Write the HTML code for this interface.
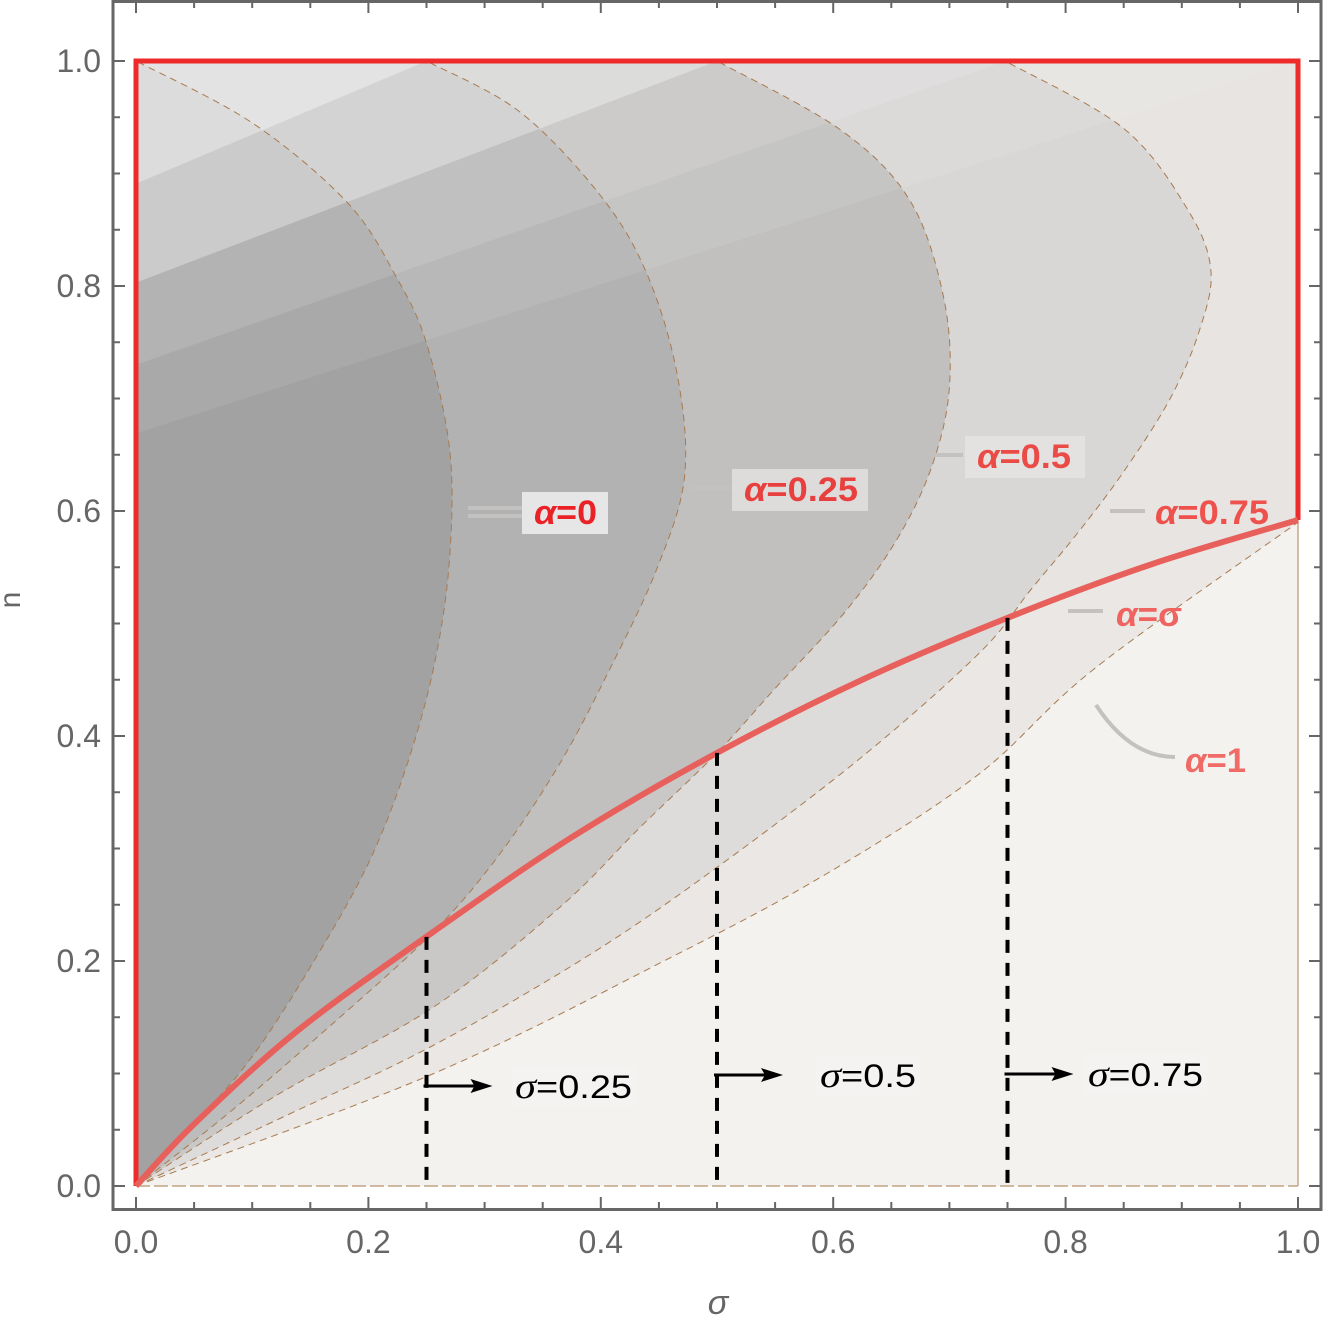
<!DOCTYPE html>
<html><head><meta charset="utf-8"><style>
html,body{margin:0;padding:0;background:#fff}
svg{display:block}
text{font-family:"Liberation Sans",sans-serif}
</style></head><body>
<svg id="chart" width="1323" height="1319" viewBox="0 0 1323 1319" xmlns="http://www.w3.org/2000/svg">
<g id="plot"></g>
</svg>
<script>
// ---- data (sigma, n) ----
const xTicks = [0, 0.2, 0.4, 0.6, 0.8, 1.0];
const yTicks = [0, 0.2, 0.4, 0.6, 0.8, 1.0];
const xTickLabels = ["0.0","0.2","0.4","0.6","0.8","1.0"];
const yTickLabels = ["0.0","0.2","0.4","0.6","0.8","1.0"];
const alphaLevels = [1, 0.75, 0.5, 0.25, 0];
const regionA1 = [[0,0],[0.254,0.099],[0.46,0.203],[0.595,0.278],[0.724,0.365],[0.825,0.46],[1,0.59]];
const regionA1Tail = [[1,0.59],[1,1]];
const regionA075 = [[0,0],[0.13,0.063],[0.254,0.124],[0.388,0.204],[0.497,0.281],[0.623,0.38],[0.726,0.474],[0.77,0.53],[0.81,0.58],[0.85,0.635],[0.89,0.7],[0.915,0.76],[0.925,0.814],[0.905,0.868],[0.85,0.94],[0.748,1]];
const regionA05 = [[0,0],[0.12,0.08],[0.256,0.159],[0.365,0.248],[0.434,0.319],[0.5,0.385],[0.548,0.44],[0.61,0.51],[0.655,0.575],[0.685,0.64],[0.7,0.71],[0.695,0.79],[0.666,0.876],[0.606,0.939],[0.5,1]];
const regionA025 = [[0,0],[0.08,0.065],[0.17,0.145],[0.256,0.226],[0.313,0.295],[0.365,0.376],[0.408,0.46],[0.448,0.548],[0.472,0.63],[0.466,0.72],[0.44,0.81],[0.4,0.88],[0.33,0.955],[0.25,1]];
const regionA0 = [[0,0],[0.05,0.055],[0.1,0.115],[0.152,0.198],[0.201,0.289],[0.235,0.38],[0.258,0.47],[0.27,0.56],[0.27,0.654],[0.25,0.749],[0.224,0.808],[0.182,0.874],[0.1,0.945],[0,1]];
const regionColors = ["#e7e4e1","#d9d7d6","#c1c0bf","#b2b2b2","#a3a2a3"];
const bandStarts = [0.891, 0.803, 0.73, 0.669];
const bandEnds = [0.25, 0.5, 0.748, 1.0];
const bandWhite = [0.35, 0.32, 0.12, 0.08];
const redCurve = [[0,0],[0.05,0.055],[0.139,0.138],[0.256,0.226],[0.375,0.31],[0.5,0.385],[0.625,0.45],[0.75,0.505],[0.875,0.553],[1,0.592]];
const sigmaMarks = [0.25, 0.5, 0.75];
const sigmaMarkLabels = ["0.25","0.5","0.75"];

const X = s => 136 + 1162*s;
const Y = n => 1186 - 1125*n;
const NS = "http://www.w3.org/2000/svg";
const plot = document.getElementById('plot');
function mk(tag, attrs, parent){const e=document.createElementNS(NS,tag);for(const k in attrs)e.setAttribute(k,attrs[k]);(parent||plot).appendChild(e);return e;}
function smooth(pts){
  const p=pts.map(q=>[X(q[0]),Y(q[1])]);
  let d="M"+p[0][0]+","+p[0][1];
  for(let i=0;i<p.length-1;i++){
    const p0=p[i-1]||p[i],p1=p[i],p2=p[i+1],p3=p[i+2]||p2;
    const c1=[p1[0]+(p2[0]-p0[0])/6,p1[1]+(p2[1]-p0[1])/6];
    const c2=[p2[0]-(p3[0]-p1[0])/6,p2[1]-(p3[1]-p1[1])/6];
    d+=" C"+c1[0]+","+c1[1]+" "+c2[0]+","+c2[1]+" "+p2[0]+","+p2[1];
  }
  return d;
}

const bg = mk('rect',{x:X(0),y:Y(1),width:X(1)-X(0),height:Y(0)-Y(1),fill:'#f3f0ed'});



const regions=[regionA1,regionA075,regionA05,regionA025,regionA0];
const boundaryPaths=regions.map((r,i)=>{
  let d=smooth(r);
  if(i===0) d+=" L"+X(regionA1Tail[1][0])+","+Y(regionA1Tail[1][1]);
  return d;
});
regions.forEach((r,i)=>{
  const d=boundaryPaths[i]+" L"+X(0)+","+Y(1)+" L"+X(0)+","+Y(0)+" Z";
  const e=mk('path',{d:d,fill:regionColors[i],stroke:'none'});
  
  
});
bandStarts.forEach((b,i)=>{
  const e=mk('polygon',{points:X(0)+","+Y(b)+" "+X(bandEnds[i])+","+Y(1)+" "+X(0)+","+Y(1),fill:'#fff','fill-opacity':bandWhite[i]});
  
  
});
{
  let d=smooth(redCurve)+" L"+X(1)+","+Y(0)+" Z";
  const e=mk('path',{d:d,fill:'#fff','fill-opacity':0.13});
  
  
}
regions.forEach((r,i)=>{
  const e=mk('path',{d:boundaryPaths[i],fill:'none',stroke:'#a77a4e','stroke-width':1,'stroke-dasharray':'7,5'});
  
  
});
{
  const e=mk('line',{x1:X(0),y1:Y(0),x2:X(1),y2:Y(0),stroke:'#a77a4e','stroke-width':1,'stroke-dasharray':'14,4'});
  
  
  const e2=mk('line',{x1:X(1),y1:Y(0),x2:X(1),y2:Y(0.59),stroke:'#c8a888','stroke-width':1.5});
  
  
}
{
  const e=mk('polyline',{points:X(1)+","+Y(0.592)+" "+X(1)+","+Y(1)+" "+X(0)+","+Y(1)+" "+X(0)+","+Y(0),fill:'none',stroke:'#ee2a2a','stroke-width':5,'stroke-linejoin':'miter'});
  
  
  const c=mk('path',{d:smooth(redCurve),fill:'none',stroke:'#e8605c','stroke-width':6});
  
  
}
const sigmaArrowY=[1086,1075,1074];
const sigmaLabelX=[515,820,1088];
const sigmaLabelW=[117,96,115];
sigmaMarks.forEach((s,i)=>{
  let n=0; for(let k=0;k<redCurve.length-1;k++){const a=redCurve[k],b=redCurve[k+1];if(s>=a[0]&&s<=b[0]){n=a[1]+(b[1]-a[1])*(s-a[0])/(b[0]-a[0]);}}
  const l=mk('line',{x1:X(s),y1:Y(n),x2:X(s),y2:Y(0),stroke:'#000','stroke-width':4,'stroke-dasharray':'13,10'});
  
  
  const ay=sigmaArrowY[i];
  const a=mk('line',{x1:X(s)-3,y1:ay,x2:X(s)+50,y2:ay,stroke:'#000','stroke-width':3});
  
  
  const h=mk('polygon',{points:(X(s)+66)+","+ay+" "+(X(s)+44)+","+(ay-7)+" "+(X(s)+48)+","+ay+" "+(X(s)+44)+","+(ay+7),fill:'#000'});
  
  
  const bx=mk('rect',{x:sigmaLabelX[i]-4,y:ay-20,width:sigmaLabelW[i]+8,height:40,fill:'#f5f3f1'});
  
  
  const t=mk('text',{x:sigmaLabelX[i],y:ay+12,'font-size':32,fill:'#000',textLength:sigmaLabelW[i],lengthAdjust:'spacingAndGlyphs'});
  const ts=mk('tspan',{'font-style':'italic','font-family':'"Liberation Serif",serif','font-size':36},t);
  ts.textContent='σ';
  t.appendChild(document.createTextNode('='+sigmaMarkLabels[i]));
  
  
});
function alphaLabel(name,rest,x,y,w,tw,color,box,leader){
  if(leader){const l=mk('path',{d:leader,fill:'none',stroke:'#c4c2c0','stroke-width':4});
    
    }
  if(box){const b=mk('rect',{x:x-12,y:y-32,width:w,height:42,fill:box});
    
    }
  const t=mk('text',{x:x,y:y,'font-size':34,'font-weight':'bold',fill:color,textLength:tw,lengthAdjust:'spacingAndGlyphs'});
  const a=mk('tspan',{'font-style':'italic'},t); a.textContent='α';
  const r=mk('tspan',{},t); r.textContent=rest;
  
  
}
alphaLabel('label-alpha-0','=0',534,524,86,63,'#ea2228','#e6e6e6','M468,508 L522,508 M468,516 L522,516');
alphaLabel('label-alpha-0-25','=0.25',744,501,136,114,'#e8403e','#dedcdb','M690,488 L732,488');
alphaLabel('label-alpha-0-5','=0.5',977,468,120,94,'#eb4b46','#e4e2e0','M930,455 L963,455');
alphaLabel('label-alpha-0-75','=0.75',1155,524,0,114,'#ef524d',null,'M1110,511 L1145,511');
alphaLabel('label-alpha-sigma','=σ',1116,626,0,66,'#ef6460',null,'M1068,611 L1103,611');
alphaLabel('label-alpha-1','=1',1185,772,0,61,'#f06a66',null,'M1096,705 Q1130,757 1175,757');

const fr=mk('rect',{x:113,y:1.5,width:1208,height:1208,fill:'none',stroke:'#666','stroke-width':3});


for(let k=0;k<=20;k++){
  const v=k*0.05, major=(k%4===0), L=major?12:7;
  const g=mk('g',{stroke:'#666','stroke-width':2});
  
  
  mk('line',{x1:X(v),y1:1209,x2:X(v),y2:1209-L},g);
  mk('line',{x1:X(v),y1:1,x2:X(v),y2:1+L},g);
  mk('line',{x1:113,y1:Y(v),x2:113+L,y2:Y(v)},g);
  mk('line',{x1:1321,y1:Y(v),x2:1321-L,y2:Y(v)},g);
}
xTicks.forEach((v,i)=>{
  const t=mk('text',{x:X(v),y:1253,'font-size':32,fill:'#666','text-anchor':'middle'});
  t.textContent=xTickLabels[i];
  
  
});
yTicks.forEach((v,i)=>{
  const t=mk('text',{x:101,y:Y(v)+11,'font-size':32,fill:'#666','text-anchor':'end'});
  t.textContent=yTickLabels[i];
  
  
});
const xt=mk('text',{x:718,y:1314,'font-size':34,'font-style':'italic','font-family':'"Liberation Serif",serif',fill:'#666','text-anchor':'middle'});
xt.textContent='σ';


const yt=mk('text',{x:0,y:0,'font-size':30,fill:'#666','text-anchor':'middle',transform:'translate(20,600) rotate(-90)'});
yt.textContent='n';


</script>
</body></html>
